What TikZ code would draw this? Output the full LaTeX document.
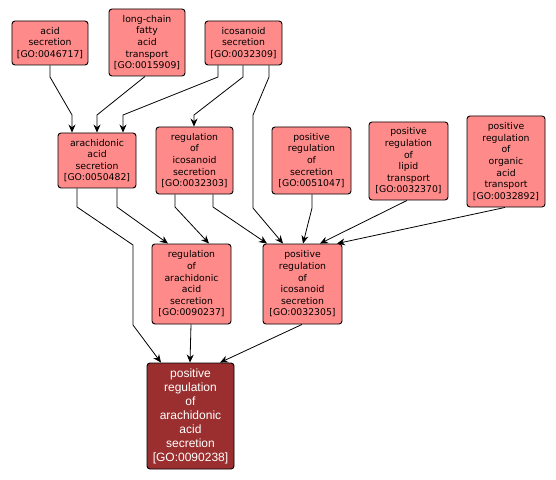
\documentclass[tikz,border=0pt]{standalone}
\usepackage{fontspec}
\setmainfont{DejaVu Sans}
\newfontfamily\finalfont{Liberation Sans}
\usetikzlibrary{arrows.meta}
\definecolor{goFill}{RGB}{255,138,138}
\definecolor{goDark}{RGB}{155,47,47}
\tikzset{
  gobox/.style={draw=black, line width=0.9bp, rounded corners=3bp, fill=goFill, inner sep=0pt,
    align=center, font=\fontsize{9.3bp}{11.6bp}\selectfont, text=black},
  gofinal/.style={gobox, fill=goDark, text=white, font=\finalfont\fontsize{12bp}{14bp}\selectfont},
  edge/.style={draw=black, line width=0.8bp, -{Stealth[length=8bp,width=7bp]}}
}
\begin{document}
\begin{tikzpicture}[x=1bp,y=-1bp]
\useasboundingbox (0,0) rectangle (556,480);
\node[gobox, minimum width=76bp, minimum height=44bp] (n1) at (50,43) {acid\\secretion\\{[GO:0046717]}};
\node[gobox, minimum width=76bp, minimum height=67bp] (n2) at (147,42.5) {long-chain\\fatty\\acid\\transport\\{[GO:0015909]}};
\node[gobox, minimum width=77bp, minimum height=44bp] (n3) at (243.5,43) {icosanoid\\secretion\\{[GO:0032309]}};
\node[gobox, minimum width=78bp, minimum height=55bp] (n4) at (97,160.5) {arachidonic\\acid\\secretion\\{[GO:0050482]}};
\node[gobox, minimum width=77bp, minimum height=67bp] (n5) at (194.5,160.5) {regulation\\of\\icosanoid\\secretion\\{[GO:0032303]}};
\node[gobox, minimum width=79bp, minimum height=67bp] (n6) at (311.5,160.5) {positive\\regulation\\of\\secretion\\{[GO:0051047]}};
\node[gobox, minimum width=79bp, minimum height=78bp] (n7) at (408.5,161) {positive\\regulation\\of\\lipid\\transport\\{[GO:0032370]}};
\node[gobox, minimum width=78bp, minimum height=91bp] (n8) at (506,161.5) {positive\\regulation\\of\\organic\\acid\\transport\\{[GO:0032892]}};
\node[gobox, minimum width=79bp, minimum height=80bp] (n9) at (191.5,284) {regulation\\of\\arachidonic\\acid\\secretion\\{[GO:0090237]}};
\node[gobox, minimum width=79bp, minimum height=80bp] (n10) at (302.5,284) {positive\\regulation\\of\\icosanoid\\secretion\\{[GO:0032305]}};
\node[gofinal, minimum width=87bp, minimum height=106bp] (n11) at (190.5,416) {positive\\regulation\\of\\arachidonic\\acid\\secretion\\{[GO:0090238]}};
% edges
\draw[edge] (n1.south -| 50,0) -- (50,77) -- (72,115) -- (n4.north -| 72,0);
\draw[edge] (n2.south -| 145,0) -- (97,115) -- (n4.north -| 97,0);
\draw[edge] (n3.south -| 218,0) -- (218,77) -- (123,115) -- (n4.north -| 123,0);
\draw[edge] (n3.south -| 243,0) -- (243,77) -- (194,115) -- (n5.north -| 194,0);
\draw[edge] (n3.south -| 269,0) -- (269,77) -- (253,115) -- (253,208) -- (n10.north -| 283,0);
\draw[edge] (n4.south -| 77,0) -- (77,207) -- (133,245) -- (133,325) -- (n11.north -| 161,0);
\draw[edge] (n4.south -| 117,0) -- (117,207) -- (n9.north -| 168,0);
\draw[edge] (n5.south -| 175,0) -- (175,207) -- (n9.north -| 209,0);
\draw[edge] (n5.south -| 213,0) -- (213,207) -- (n10.north -| 267,0);
\draw[edge] (n6.south -| 312,0) -- (312,208) -- (n10.north -| 303,0);
\draw[edge] (n7.south -| 407,0) -- (n10.north -| 320,0);
\draw[edge] (n8.south -| 505,0) -- (n10.north -| 337,0);
\draw[edge] (n9.south -| 191,0) -- (n11.north -| 190,0);
\draw[edge] (n10.south -| 302,0) -- (n11.north -| 220,0);
\end{tikzpicture}
\end{document}
